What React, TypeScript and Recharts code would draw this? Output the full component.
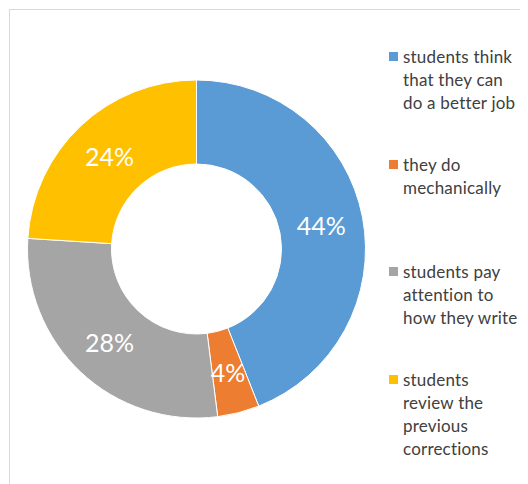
import { PieChart, Pie, Cell, Legend } from 'recharts';

const categories = [
  'students think\nthat they can\ndo a better job',
  'they do\nmechanically',
  'students pay\nattention to\nhow they write',
  'students\nreview the\nprevious\ncorrections',
];
const values = [44, 4, 28, 24];
const colors = ['#5B9BD5', '#ED7D31', '#A5A5A5', '#FFC000'];

const data = categories.map((name, i) => ({ name, value: values[i] }));

const RAD = Math.PI / 180;

const renderLabel = (props: any) => {
  const { cx, cy, midAngle, innerRadius, outerRadius, value } = props;
  const r = (innerRadius + outerRadius) / 2;
  const x = cx + r * Math.cos(-midAngle * RAD);
  const y = cy + r * Math.sin(-midAngle * RAD);
  return (
    <text
      x={x}
      y={y}
      fill="#fff"
      fontSize={25}
      fontFamily="Lato, sans-serif"
      textAnchor="middle"
      dominantBaseline="central"
    >
      {`${value}%`}
    </text>
  );
};

// legend drawn from our own arrays so the order stays as in the source
const renderLegend = () => (
  <div style={{ fontFamily: 'Lato, sans-serif', fontSize: 17, letterSpacing: 0.2, color: '#404040' }}>
    {categories.map((name, i) => (
      <div key={i} style={{ height: 107.5, display: 'flex', alignItems: 'flex-start' }}>
        <span
          style={{
            display: 'inline-block',
            width: 9,
            height: 9,
            background: colors[i],
            marginTop: 7,
            marginRight: 5,
            flexShrink: 0,
          }}
        />
        <span style={{ whiteSpace: 'pre', lineHeight: '23px' }}>{name}</span>
      </div>
    ))}
  </div>
);

export default function App() {
  return (
    <div
      style={{
        marginLeft: 1,
        marginTop: 1,
        borderTop: '1px solid #D9D9D9',
        borderLeft: '1px solid #D9D9D9',
        width: 518,
        height: 474,
        position: 'relative',
        background: '#fff',
      }}
    >
      <PieChart width={518} height={474} margin={{ top: 0, right: 0, bottom: 0, left: 0 }}>
        <Pie
          data={data}
          dataKey="value"
          nameKey="name"
          cx={186.5}
          cy={239}
          innerRadius={85}
          outerRadius={169}
          startAngle={90}
          endAngle={-270}
          stroke="#fff"
          strokeWidth={1}
          label={renderLabel}
          labelLine={false}
          isAnimationActive={false}
        >
          {data.map((_, i) => (
            <Cell key={i} fill={colors[i]} />
          ))}
        </Pie>
        <Legend
          layout="vertical"
          content={renderLegend}
          wrapperStyle={{ position: 'absolute', left: 379, top: 35, width: 139 }}
        />
      </PieChart>
    </div>
  );
}
